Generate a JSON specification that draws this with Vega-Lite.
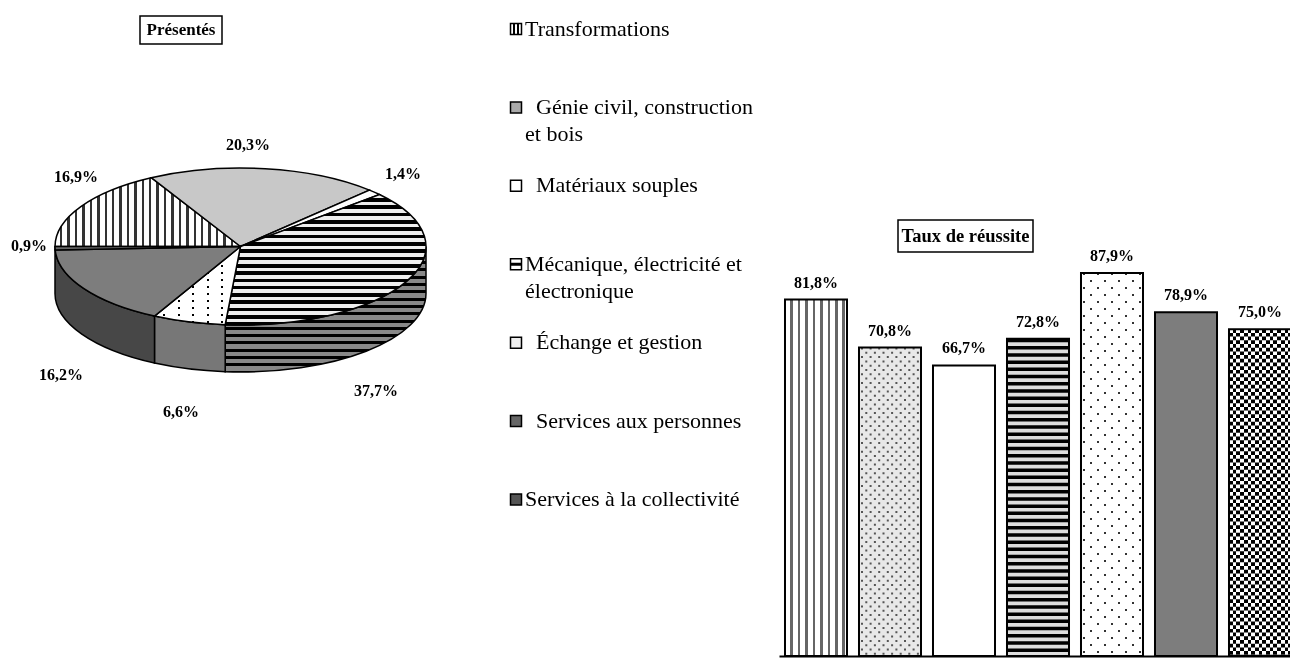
{"$schema":"https://vega.github.io/schema/vega-lite/v6.json","padding":0,"background":"white","bounds":"flush","spacing":0,"config":{"view":{"stroke":null},"locale":{"number":{"decimal":",","thousands":" ","grouping":[3],"currency":["","€"]}},"text":{"font":"Liberation Serif"}},
"data":{"values":[
{"cat":"Transformations","leg":"Transformations","p":0.169,"r":0.818},
{"cat":"Génie civil","leg":"\u200b\u00a0\u00a0Génie civil, construction\net bois","p":0.203,"r":0.708},
{"cat":"Matériaux souples","leg":"\u200b\u00a0\u00a0Matériaux souples","p":0.014,"r":0.667},
{"cat":"Mécanique","leg":"Mécanique, électricité et\nélectronique","p":0.377,"r":0.728},
{"cat":"Échange et gestion","leg":"\u200b\u00a0\u00a0Échange et gestion","p":0.066,"r":0.879},
{"cat":"Services aux personnes","leg":"\u200b\u00a0\u00a0Services aux personnes","p":0.162,"r":0.789},
{"cat":"Services à la collectivité","leg":"Services à la collectivité","p":0.009,"r":0.75}
]},
"hconcat":[
{"width":481,"height":493,"layer":[
{"transform":[{"filter":{"field":"cat","equal":"Mécanique"}}],"mark":{"type":"point","filled":true,"opacity":1,"size":4,"stroke":"#000","strokeWidth":1.5,"shape":"M185.5,0A185.5,78.5,0,0,1,-15.3,78.2L-15.3,125.2A185.5,78.5,0,0,0,185.5,47Z","fill":{"gradient":"linear","x1":0,"y1":0,"x2":0,"y2":1,"stops":[
{"offset":0,"color":"#000"},{"offset":0.024,"color":"#000"},{"offset":0.024,"color":"#888"},{"offset":0.0582,"color":"#888"},
{"offset":0.0582,"color":"#000"},{"offset":0.0822,"color":"#000"},{"offset":0.0822,"color":"#888"},{"offset":0.1164,"color":"#888"},
{"offset":0.1164,"color":"#000"},{"offset":0.1404,"color":"#000"},{"offset":0.1404,"color":"#888"},{"offset":0.1746,"color":"#888"},
{"offset":0.1746,"color":"#000"},{"offset":0.1986,"color":"#000"},{"offset":0.1986,"color":"#888"},{"offset":0.2328,"color":"#888"},
{"offset":0.2328,"color":"#000"},{"offset":0.2568,"color":"#000"},{"offset":0.2568,"color":"#888"},{"offset":0.291,"color":"#888"},
{"offset":0.291,"color":"#000"},{"offset":0.315,"color":"#000"},{"offset":0.315,"color":"#888"},{"offset":0.3492,"color":"#888"},
{"offset":0.3492,"color":"#000"},{"offset":0.3732,"color":"#000"},{"offset":0.3732,"color":"#888"},{"offset":0.4074,"color":"#888"},
{"offset":0.4074,"color":"#000"},{"offset":0.4314,"color":"#000"},{"offset":0.4314,"color":"#888"},{"offset":0.4656,"color":"#888"},
{"offset":0.4656,"color":"#000"},{"offset":0.4896,"color":"#000"},{"offset":0.4896,"color":"#888"},{"offset":0.5238,"color":"#888"},
{"offset":0.5238,"color":"#000"},{"offset":0.5478,"color":"#000"},{"offset":0.5478,"color":"#888"},{"offset":0.582,"color":"#888"},
{"offset":0.582,"color":"#000"},{"offset":0.606,"color":"#000"},{"offset":0.606,"color":"#888"},{"offset":0.6402,"color":"#888"},
{"offset":0.6402,"color":"#000"},{"offset":0.6642,"color":"#000"},{"offset":0.6642,"color":"#888"},{"offset":0.6984,"color":"#888"},
{"offset":0.6984,"color":"#000"},{"offset":0.7224,"color":"#000"},{"offset":0.7224,"color":"#888"},{"offset":0.7566,"color":"#888"},
{"offset":0.7566,"color":"#000"},{"offset":0.7806,"color":"#000"},{"offset":0.7806,"color":"#888"},{"offset":0.8148,"color":"#888"},
{"offset":0.8148,"color":"#000"},{"offset":0.8388,"color":"#000"},{"offset":0.8388,"color":"#888"},{"offset":0.873,"color":"#888"},
{"offset":0.873,"color":"#000"},{"offset":0.897,"color":"#000"},{"offset":0.897,"color":"#888"},{"offset":0.9312,"color":"#888"},
{"offset":0.9312,"color":"#000"},{"offset":0.9552,"color":"#000"},{"offset":0.9552,"color":"#888"},{"offset":0.9894,"color":"#888"},
{"offset":0.9894,"color":"#000"},{"offset":1,"color":"#000"}]}},"encoding":{}},
{"transform":[{"filter":{"field":"cat","equal":"Échange et gestion"}}],"mark":{"type":"point","filled":true,"opacity":1,"size":4,"stroke":"#000","strokeWidth":1.5,"fill":"#777","shape":"M-15.3,78.2A185.5,78.5,0,0,1,-86,69.6L-86,116.6A185.5,78.5,0,0,0,-15.3,125.2Z"},"encoding":{}},
{"transform":[{"filter":{"field":"cat","equal":"Services aux personnes"}}],"mark":{"type":"point","filled":true,"opacity":1,"size":4,"stroke":"#000","strokeWidth":1.5,"fill":"#474747","shape":"M-86,69.6A185.5,78.5,0,0,1,-185.5,0L-185.5,47A185.5,78.5,0,0,0,-86,116.6Z"},"encoding":{}},
{"transform":[{"filter":{"field":"cat","equal":"Transformations"}}],"mark":{"type":"point","filled":true,"opacity":1,"size":4,"stroke":"#000","strokeWidth":1.5,"shape":"M0,0L-185.5,0A185.5,78.5,0,0,1,-89.3,-68.8Z","fill":{"gradient":"linear","x1":0,"y1":0,"x2":1,"y2":0,"stops":[
{"offset":0,"color":"#fff"},{"offset":0.027,"color":"#fff"},{"offset":0.027,"color":"#333"},{"offset":0.04,"color":"#333"},
{"offset":0.04,"color":"#fff"},{"offset":0.067,"color":"#fff"},{"offset":0.067,"color":"#333"},{"offset":0.08,"color":"#333"},
{"offset":0.08,"color":"#fff"},{"offset":0.107,"color":"#fff"},{"offset":0.107,"color":"#333"},{"offset":0.12,"color":"#333"},
{"offset":0.12,"color":"#fff"},{"offset":0.147,"color":"#fff"},{"offset":0.147,"color":"#333"},{"offset":0.16,"color":"#333"},
{"offset":0.16,"color":"#fff"},{"offset":0.187,"color":"#fff"},{"offset":0.187,"color":"#333"},{"offset":0.2,"color":"#333"},
{"offset":0.2,"color":"#fff"},{"offset":0.227,"color":"#fff"},{"offset":0.227,"color":"#333"},{"offset":0.24,"color":"#333"},
{"offset":0.24,"color":"#fff"},{"offset":0.267,"color":"#fff"},{"offset":0.267,"color":"#333"},{"offset":0.28,"color":"#333"},
{"offset":0.28,"color":"#fff"},{"offset":0.307,"color":"#fff"},{"offset":0.307,"color":"#333"},{"offset":0.32,"color":"#333"},
{"offset":0.32,"color":"#fff"},{"offset":0.347,"color":"#fff"},{"offset":0.347,"color":"#333"},{"offset":0.36,"color":"#333"},
{"offset":0.36,"color":"#fff"},{"offset":0.387,"color":"#fff"},{"offset":0.387,"color":"#333"},{"offset":0.4,"color":"#333"},
{"offset":0.4,"color":"#fff"},{"offset":0.427,"color":"#fff"},{"offset":0.427,"color":"#333"},{"offset":0.44,"color":"#333"},
{"offset":0.44,"color":"#fff"},{"offset":0.467,"color":"#fff"},{"offset":0.467,"color":"#333"},{"offset":0.48,"color":"#333"},
{"offset":0.48,"color":"#fff"},{"offset":0.507,"color":"#fff"},{"offset":0.507,"color":"#333"},{"offset":0.52,"color":"#333"},
{"offset":0.52,"color":"#fff"},{"offset":0.547,"color":"#fff"},{"offset":0.547,"color":"#333"},{"offset":0.56,"color":"#333"},
{"offset":0.56,"color":"#fff"},{"offset":0.587,"color":"#fff"},{"offset":0.587,"color":"#333"},{"offset":0.6,"color":"#333"},
{"offset":0.6,"color":"#fff"},{"offset":0.627,"color":"#fff"},{"offset":0.627,"color":"#333"},{"offset":0.64,"color":"#333"},
{"offset":0.64,"color":"#fff"},{"offset":0.667,"color":"#fff"},{"offset":0.667,"color":"#333"},{"offset":0.68,"color":"#333"},
{"offset":0.68,"color":"#fff"},{"offset":0.707,"color":"#fff"},{"offset":0.707,"color":"#333"},{"offset":0.72,"color":"#333"},
{"offset":0.72,"color":"#fff"},{"offset":0.747,"color":"#fff"},{"offset":0.747,"color":"#333"},{"offset":0.76,"color":"#333"},
{"offset":0.76,"color":"#fff"},{"offset":0.787,"color":"#fff"},{"offset":0.787,"color":"#333"},{"offset":0.8,"color":"#333"},
{"offset":0.8,"color":"#fff"},{"offset":0.827,"color":"#fff"},{"offset":0.827,"color":"#333"},{"offset":0.84,"color":"#333"},
{"offset":0.84,"color":"#fff"},{"offset":0.867,"color":"#fff"},{"offset":0.867,"color":"#333"},{"offset":0.88,"color":"#333"},
{"offset":0.88,"color":"#fff"},{"offset":0.907,"color":"#fff"},{"offset":0.907,"color":"#333"},{"offset":0.92,"color":"#333"},
{"offset":0.92,"color":"#fff"},{"offset":0.947,"color":"#fff"},{"offset":0.947,"color":"#333"},{"offset":0.96,"color":"#333"},
{"offset":0.96,"color":"#fff"},{"offset":1,"color":"#fff"}]}},"encoding":{}},
{"transform":[{"filter":{"field":"cat","equal":"Génie civil"}}],"mark":{"type":"point","filled":true,"opacity":1,"size":4,"stroke":"#000","strokeWidth":1.5,"fill":"#c8c8c8","shape":"M0,0L-89.3,-68.8A185.5,78.5,0,0,1,129,-56.4Z"},"encoding":{}},
{"transform":[{"filter":{"field":"cat","equal":"Matériaux souples"}}],"mark":{"type":"point","filled":true,"opacity":1,"size":4,"stroke":"#000","strokeWidth":1.5,"fill":"#fff","shape":"M0,0L129,-56.4A185.5,78.5,0,0,1,139,-52Z"},"encoding":{}},
{"transform":[{"filter":{"field":"cat","equal":"Mécanique"}}],"mark":{"type":"point","filled":true,"opacity":1,"size":4,"stroke":"#000","strokeWidth":1.5,"shape":"M0,0L139,-52A185.5,78.5,0,0,1,-15.3,78.2Z","fill":{"gradient":"linear","x1":0,"y1":0,"x2":0,"y2":1,"stops":[
{"offset":0,"color":"#eee"},{"offset":0.028,"color":"#eee"},{"offset":0.028,"color":"#000"},{"offset":0.056,"color":"#000"},
{"offset":0.056,"color":"#eee"},{"offset":0.084,"color":"#eee"},{"offset":0.084,"color":"#000"},{"offset":0.112,"color":"#000"},
{"offset":0.112,"color":"#eee"},{"offset":0.14,"color":"#eee"},{"offset":0.14,"color":"#000"},{"offset":0.168,"color":"#000"},
{"offset":0.168,"color":"#eee"},{"offset":0.196,"color":"#eee"},{"offset":0.196,"color":"#000"},{"offset":0.224,"color":"#000"},
{"offset":0.224,"color":"#eee"},{"offset":0.252,"color":"#eee"},{"offset":0.252,"color":"#000"},{"offset":0.28,"color":"#000"},
{"offset":0.28,"color":"#eee"},{"offset":0.308,"color":"#eee"},{"offset":0.308,"color":"#000"},{"offset":0.336,"color":"#000"},
{"offset":0.336,"color":"#eee"},{"offset":0.364,"color":"#eee"},{"offset":0.364,"color":"#000"},{"offset":0.392,"color":"#000"},
{"offset":0.392,"color":"#eee"},{"offset":0.42,"color":"#eee"},{"offset":0.42,"color":"#000"},{"offset":0.448,"color":"#000"},
{"offset":0.448,"color":"#eee"},{"offset":0.476,"color":"#eee"},{"offset":0.476,"color":"#000"},{"offset":0.504,"color":"#000"},
{"offset":0.504,"color":"#eee"},{"offset":0.532,"color":"#eee"},{"offset":0.532,"color":"#000"},{"offset":0.56,"color":"#000"},
{"offset":0.56,"color":"#eee"},{"offset":0.588,"color":"#eee"},{"offset":0.588,"color":"#000"},{"offset":0.616,"color":"#000"},
{"offset":0.616,"color":"#eee"},{"offset":0.644,"color":"#eee"},{"offset":0.644,"color":"#000"},{"offset":0.672,"color":"#000"},
{"offset":0.672,"color":"#eee"},{"offset":0.7,"color":"#eee"},{"offset":0.7,"color":"#000"},{"offset":0.728,"color":"#000"},
{"offset":0.728,"color":"#eee"},{"offset":0.756,"color":"#eee"},{"offset":0.756,"color":"#000"},{"offset":0.784,"color":"#000"},
{"offset":0.784,"color":"#eee"},{"offset":0.812,"color":"#eee"},{"offset":0.812,"color":"#000"},{"offset":0.84,"color":"#000"},
{"offset":0.84,"color":"#eee"},{"offset":0.868,"color":"#eee"},{"offset":0.868,"color":"#000"},{"offset":0.896,"color":"#000"},
{"offset":0.896,"color":"#eee"},{"offset":0.924,"color":"#eee"},{"offset":0.924,"color":"#000"},{"offset":0.952,"color":"#000"},
{"offset":0.952,"color":"#eee"},{"offset":0.98,"color":"#eee"},{"offset":0.98,"color":"#000"},{"offset":1,"color":"#000"}]}},"encoding":{}},
{"transform":[{"filter":{"field":"cat","equal":"Échange et gestion"}}],"mark":{"type":"point","filled":true,"opacity":1,"size":4,"shape":"M0,0L-15.3,78.2A185.5,78.5,0,0,1,-86,69.6Z","fill":{"gradient":"linear","x1":0,"y1":0,"x2":0,"y2":1,"stops":[
{"offset":0,"color":"#fff"},{"offset":0.06,"color":"#fff"},{"offset":0.06,"color":"#000"},{"offset":0.085,"color":"#000"},
{"offset":0.085,"color":"#fff"},{"offset":0.149,"color":"#fff"},{"offset":0.149,"color":"#000"},{"offset":0.174,"color":"#000"},
{"offset":0.174,"color":"#fff"},{"offset":0.238,"color":"#fff"},{"offset":0.238,"color":"#000"},{"offset":0.263,"color":"#000"},
{"offset":0.263,"color":"#fff"},{"offset":0.327,"color":"#fff"},{"offset":0.327,"color":"#000"},{"offset":0.352,"color":"#000"},
{"offset":0.352,"color":"#fff"},{"offset":0.416,"color":"#fff"},{"offset":0.416,"color":"#000"},{"offset":0.441,"color":"#000"},
{"offset":0.441,"color":"#fff"},{"offset":0.505,"color":"#fff"},{"offset":0.505,"color":"#000"},{"offset":0.53,"color":"#000"},
{"offset":0.53,"color":"#fff"},{"offset":0.594,"color":"#fff"},{"offset":0.594,"color":"#000"},{"offset":0.619,"color":"#000"},
{"offset":0.619,"color":"#fff"},{"offset":0.683,"color":"#fff"},{"offset":0.683,"color":"#000"},{"offset":0.708,"color":"#000"},
{"offset":0.708,"color":"#fff"},{"offset":0.772,"color":"#fff"},{"offset":0.772,"color":"#000"},{"offset":0.797,"color":"#000"},
{"offset":0.797,"color":"#fff"},{"offset":0.861,"color":"#fff"},{"offset":0.861,"color":"#000"},{"offset":0.886,"color":"#000"},
{"offset":0.886,"color":"#fff"},{"offset":0.95,"color":"#fff"},{"offset":0.95,"color":"#000"},{"offset":0.975,"color":"#000"},
{"offset":0.975,"color":"#fff"},{"offset":1,"color":"#fff"}]}},"encoding":{}},
{"transform":[{"filter":{"field":"cat","equal":"Échange et gestion"}}],"mark":{"type":"point","filled":true,"opacity":1,"size":4,"blend":"screen","shape":"M0,0L-15.3,78.2A185.5,78.5,0,0,1,-86,69.6Z","fill":{"gradient":"linear","x1":0,"y1":0,"x2":1,"y2":0,"stops":[
{"offset":0,"color":"#fff"},{"offset":0.1,"color":"#fff"},{"offset":0.1,"color":"#000"},{"offset":0.123,"color":"#000"},
{"offset":0.123,"color":"#fff"},{"offset":0.269,"color":"#fff"},{"offset":0.269,"color":"#000"},{"offset":0.292,"color":"#000"},
{"offset":0.292,"color":"#fff"},{"offset":0.438,"color":"#fff"},{"offset":0.438,"color":"#000"},{"offset":0.461,"color":"#000"},
{"offset":0.461,"color":"#fff"},{"offset":0.607,"color":"#fff"},{"offset":0.607,"color":"#000"},{"offset":0.63,"color":"#000"},
{"offset":0.63,"color":"#fff"},{"offset":0.776,"color":"#fff"},{"offset":0.776,"color":"#000"},{"offset":0.799,"color":"#000"},
{"offset":0.799,"color":"#fff"},{"offset":1,"color":"#fff"}]}},"encoding":{}},
{"transform":[{"filter":{"field":"cat","equal":"Échange et gestion"}}],"mark":{"type":"point","filled":false,"opacity":1,"size":4,"stroke":"#000","strokeWidth":1.5,"shape":"M0,0L-15.3,78.2A185.5,78.5,0,0,1,-86,69.6Z"},"encoding":{}},
{"transform":[{"filter":{"field":"cat","equal":"Services aux personnes"}}],"mark":{"type":"point","filled":true,"opacity":1,"size":4,"stroke":"#000","strokeWidth":1.5,"fill":"#7d7d7d","shape":"M0,0L-86,69.6A185.5,78.5,0,0,1,-185.3,3.5Z"},"encoding":{}},
{"transform":[{"filter":{"field":"cat","equal":"Services à la collectivité"}}],"mark":{"type":"point","filled":true,"opacity":1,"size":4,"stroke":"#000","strokeWidth":1.5,"fill":"#666","shape":"M0,0L-185.3,3.5A185.5,78.5,0,0,1,-185.5,0Z"},"encoding":{}},
{"transform":[{"filter":{"field":"cat","equal":"Génie civil"}}],"mark":{"type":"text","font":"Liberation Serif","fontWeight":"bold","fontSize":16,"dx":7.5,"dy":-101.5,"baseline":"middle"},"encoding":{"text":{"field":"p","type":"quantitative","format":".1%"}}},
{"transform":[{"filter":{"field":"cat","equal":"Matériaux souples"}}],"mark":{"type":"text","font":"Liberation Serif","fontWeight":"bold","fontSize":16,"dx":162.5,"dy":-72.5,"baseline":"middle"},"encoding":{"text":{"field":"p","type":"quantitative","format":".1%"}}},
{"transform":[{"filter":{"field":"cat","equal":"Mécanique"}}],"mark":{"type":"text","font":"Liberation Serif","fontWeight":"bold","fontSize":16,"dx":135.5,"dy":144.5,"baseline":"middle"},"encoding":{"text":{"field":"p","type":"quantitative","format":".1%"}}},
{"transform":[{"filter":{"field":"cat","equal":"Échange et gestion"}}],"mark":{"type":"text","font":"Liberation Serif","fontWeight":"bold","fontSize":16,"dx":-59.5,"dy":165.5,"baseline":"middle"},"encoding":{"text":{"field":"p","type":"quantitative","format":".1%"}}},
{"transform":[{"filter":{"field":"cat","equal":"Services aux personnes"}}],"mark":{"type":"text","font":"Liberation Serif","fontWeight":"bold","fontSize":16,"dx":-179.5,"dy":128.5,"baseline":"middle"},"encoding":{"text":{"field":"p","type":"quantitative","format":".1%"}}},
{"transform":[{"filter":{"field":"cat","equal":"Services à la collectivité"}}],"mark":{"type":"text","font":"Liberation Serif","fontWeight":"bold","fontSize":16,"dx":-211.5,"dy":-0.5,"baseline":"middle"},"encoding":{"text":{"field":"p","type":"quantitative","format":".1%"}}},
{"transform":[{"filter":{"field":"cat","equal":"Transformations"}}],"mark":{"type":"text","font":"Liberation Serif","fontWeight":"bold","fontSize":16,"dx":-164.5,"dy":-69.5,"baseline":"middle"},"encoding":{"text":{"field":"p","type":"quantitative","format":".1%"}}},
{"data":{"values":[{"titre":"Présentés"}]},"mark":{"type":"point","filled":true,"opacity":1,"size":4,"fill":"#fff","stroke":"#000","strokeWidth":1.5,"shape":"M-100.5,-230.5H-18.5V-202.5H-100.5Z"},"encoding":{}},
{"data":{"values":[{"titre":"Présentés"}]},"mark":{"type":"text","font":"Liberation Serif","fontWeight":"bold","fontSize":17,"dx":-59.5,"dy":-216.5,"baseline":"middle"},"encoding":{"text":{"field":"titre"}}}
]},
{"width":70,"height":656,"encoding":{"y":{"field":"cat","type":"nominal","sort":null,"axis":null,"scale":{"type":"point","padding":0,"range":[29,499.5]}}},"layer":[
{"mark":{"type":"point","filled":true,"opacity":1,"size":4,"stroke":"#000","strokeWidth":1.5,"shape":"M-5.5,-5.5H5.5V5.5H-5.5Z"},"encoding":{"fill":{"condition":[{"test":"datum.cat==='Génie civil'","value":"#aaa"},{"test":"datum.cat==='Services aux personnes'","value":"#666"},{"test":"datum.cat==='Services à la collectivité'","value":"#555"},{"test":"datum.cat==='Échange et gestion'","value":"#eee"}],"value":"#fff"}}},
{"transform":[{"filter":{"field":"cat","equal":"Transformations"}}],"mark":{"type":"point","filled":false,"opacity":1,"size":4,"stroke":"#000","strokeWidth":2,"shape":"M-2,-5V5M2,-5V5"}},
{"transform":[{"filter":{"field":"cat","equal":"Mécanique"}}],"mark":{"type":"point","filled":false,"opacity":1,"size":4,"stroke":"#000","strokeWidth":3,"shape":"M-5,0H5"}},
{"mark":{"type":"text","font":"Liberation Serif","fontSize":22,"align":"left","dx":9,"dy":6.5,"lineBreak":"\n","lineHeight":27,"baseline":"alphabetic"},"encoding":{"text":{"field":"leg"}}}
]},
{"width":739,"height":656,"encoding":{"x":{"field":"cat","type":"nominal","sort":null,"title":null,"scale":{"type":"band","range":[228,746],"paddingInner":0.162,"paddingOuter":0.081},"axis":{"domain":true,"domainWidth":2,"domainColor":"#000","ticks":false,"labels":false,"grid":false,"title":null}},"y":{"field":"r","type":"quantitative","title":null,"axis":null,"scale":{"domain":[0,1.5056],"nice":false}}},"layer":[
{"mark":{"type":"bar","fill":"#fff"}},
{"transform":[{"filter":{"field":"cat","equal":"Transformations"}}],"mark":{"type":"bar","fill":{"gradient":"linear","x1":0,"y1":0,"x2":1,"y2":0,"stops":[
{"offset":0,"color":"#fff"},{"offset":0.087,"color":"#fff"},{"offset":0.087,"color":"#666"},{"offset":0.127,"color":"#666"},
{"offset":0.127,"color":"#fff"},{"offset":0.205,"color":"#fff"},{"offset":0.205,"color":"#666"},{"offset":0.245,"color":"#666"},
{"offset":0.245,"color":"#fff"},{"offset":0.328,"color":"#fff"},{"offset":0.328,"color":"#666"},{"offset":0.368,"color":"#666"},
{"offset":0.368,"color":"#fff"},{"offset":0.445,"color":"#fff"},{"offset":0.445,"color":"#666"},{"offset":0.485,"color":"#666"},
{"offset":0.485,"color":"#fff"},{"offset":0.568,"color":"#fff"},{"offset":0.568,"color":"#666"},{"offset":0.608,"color":"#666"},
{"offset":0.608,"color":"#fff"},{"offset":0.686,"color":"#fff"},{"offset":0.686,"color":"#666"},{"offset":0.726,"color":"#666"},
{"offset":0.726,"color":"#fff"},{"offset":0.809,"color":"#fff"},{"offset":0.809,"color":"#666"},{"offset":0.849,"color":"#666"},
{"offset":0.849,"color":"#fff"},{"offset":0.927,"color":"#fff"},{"offset":0.927,"color":"#666"},{"offset":0.967,"color":"#666"},
{"offset":0.967,"color":"#fff"},{"offset":1,"color":"#fff"}]}}},
{"transform":[{"filter":{"field":"cat","equal":"Génie civil"}}],"mark":{"type":"bar","fill":"#e8e8e8"}},
{"transform":[{"filter":{"field":"cat","equal":"Génie civil"}}],"mark":{"type":"rule","size":2,"stroke":"#555","strokeDash":[2,6.6],"xOffset":-28},"encoding":{"y2":{"datum":0}}},
{"transform":[{"filter":{"field":"cat","equal":"Génie civil"}}],"mark":{"type":"rule","size":2,"stroke":"#555","strokeDash":[2,6.6],"strokeDashOffset":4.3,"xOffset":-23.7},"encoding":{"y2":{"datum":0}}},
{"transform":[{"filter":{"field":"cat","equal":"Génie civil"}}],"mark":{"type":"rule","size":2,"stroke":"#555","strokeDash":[2,6.6],"xOffset":-19.4},"encoding":{"y2":{"datum":0}}},
{"transform":[{"filter":{"field":"cat","equal":"Génie civil"}}],"mark":{"type":"rule","size":2,"stroke":"#555","strokeDash":[2,6.6],"strokeDashOffset":4.3,"xOffset":-15.1},"encoding":{"y2":{"datum":0}}},
{"transform":[{"filter":{"field":"cat","equal":"Génie civil"}}],"mark":{"type":"rule","size":2,"stroke":"#555","strokeDash":[2,6.6],"xOffset":-10.8},"encoding":{"y2":{"datum":0}}},
{"transform":[{"filter":{"field":"cat","equal":"Génie civil"}}],"mark":{"type":"rule","size":2,"stroke":"#555","strokeDash":[2,6.6],"strokeDashOffset":4.3,"xOffset":-6.5},"encoding":{"y2":{"datum":0}}},
{"transform":[{"filter":{"field":"cat","equal":"Génie civil"}}],"mark":{"type":"rule","size":2,"stroke":"#555","strokeDash":[2,6.6],"xOffset":-2.2},"encoding":{"y2":{"datum":0}}},
{"transform":[{"filter":{"field":"cat","equal":"Génie civil"}}],"mark":{"type":"rule","size":2,"stroke":"#555","strokeDash":[2,6.6],"strokeDashOffset":4.3,"xOffset":2.1},"encoding":{"y2":{"datum":0}}},
{"transform":[{"filter":{"field":"cat","equal":"Génie civil"}}],"mark":{"type":"rule","size":2,"stroke":"#555","strokeDash":[2,6.6],"xOffset":6.4},"encoding":{"y2":{"datum":0}}},
{"transform":[{"filter":{"field":"cat","equal":"Génie civil"}}],"mark":{"type":"rule","size":2,"stroke":"#555","strokeDash":[2,6.6],"strokeDashOffset":4.3,"xOffset":10.7},"encoding":{"y2":{"datum":0}}},
{"transform":[{"filter":{"field":"cat","equal":"Génie civil"}}],"mark":{"type":"rule","size":2,"stroke":"#555","strokeDash":[2,6.6],"xOffset":15},"encoding":{"y2":{"datum":0}}},
{"transform":[{"filter":{"field":"cat","equal":"Génie civil"}}],"mark":{"type":"rule","size":2,"stroke":"#555","strokeDash":[2,6.6],"strokeDashOffset":4.3,"xOffset":19.3},"encoding":{"y2":{"datum":0}}},
{"transform":[{"filter":{"field":"cat","equal":"Génie civil"}}],"mark":{"type":"rule","size":2,"stroke":"#555","strokeDash":[2,6.6],"xOffset":23.6},"encoding":{"y2":{"datum":0}}},
{"transform":[{"filter":{"field":"cat","equal":"Génie civil"}}],"mark":{"type":"rule","size":2,"stroke":"#555","strokeDash":[2,6.6],"strokeDashOffset":4.3,"xOffset":27.9},"encoding":{"y2":{"datum":0}}},
{"transform":[{"filter":{"field":"cat","equal":"Mécanique"}}],"mark":{"type":"bar","fill":"#ddd"}},
{"transform":[{"filter":{"field":"cat","equal":"Mécanique"}}],"mark":{"type":"rule","size":61,"stroke":"#000","strokeDash":[3.5,3.7]},"encoding":{"y2":{"datum":0}}},
{"transform":[{"filter":{"field":"cat","equal":"Échange et gestion"}}],"mark":{"type":"rule","size":2,"stroke":"#333","strokeDash":[2,12],"xOffset":-28},"encoding":{"y2":{"datum":0}}},
{"transform":[{"filter":{"field":"cat","equal":"Échange et gestion"}}],"mark":{"type":"rule","size":2,"stroke":"#333","strokeDash":[2,12],"strokeDashOffset":7,"xOffset":-21},"encoding":{"y2":{"datum":0}}},
{"transform":[{"filter":{"field":"cat","equal":"Échange et gestion"}}],"mark":{"type":"rule","size":2,"stroke":"#333","strokeDash":[2,12],"xOffset":-14},"encoding":{"y2":{"datum":0}}},
{"transform":[{"filter":{"field":"cat","equal":"Échange et gestion"}}],"mark":{"type":"rule","size":2,"stroke":"#333","strokeDash":[2,12],"strokeDashOffset":7,"xOffset":-7},"encoding":{"y2":{"datum":0}}},
{"transform":[{"filter":{"field":"cat","equal":"Échange et gestion"}}],"mark":{"type":"rule","size":2,"stroke":"#333","strokeDash":[2,12]},"encoding":{"y2":{"datum":0}}},
{"transform":[{"filter":{"field":"cat","equal":"Échange et gestion"}}],"mark":{"type":"rule","size":2,"stroke":"#333","strokeDash":[2,12],"strokeDashOffset":7,"xOffset":7},"encoding":{"y2":{"datum":0}}},
{"transform":[{"filter":{"field":"cat","equal":"Échange et gestion"}}],"mark":{"type":"rule","size":2,"stroke":"#333","strokeDash":[2,12],"xOffset":14},"encoding":{"y2":{"datum":0}}},
{"transform":[{"filter":{"field":"cat","equal":"Échange et gestion"}}],"mark":{"type":"rule","size":2,"stroke":"#333","strokeDash":[2,12],"strokeDashOffset":7,"xOffset":21},"encoding":{"y2":{"datum":0}}},
{"transform":[{"filter":{"field":"cat","equal":"Échange et gestion"}}],"mark":{"type":"rule","size":2,"stroke":"#333","strokeDash":[2,12],"xOffset":28},"encoding":{"y2":{"datum":0}}},
{"transform":[{"filter":{"field":"cat","equal":"Services aux personnes"}}],"mark":{"type":"bar","fill":"#7d7d7d"}},
{"transform":[{"filter":{"field":"cat","equal":"Services à la collectivité"}}],"mark":{"type":"rule","size":61,"stroke":"#000","strokeDash":[3.7,3.7]},"encoding":{"y2":{"datum":0}}},
{"transform":[{"filter":{"field":"cat","equal":"Services à la collectivité"}}],"mark":{"type":"bar","blend":"difference","fill":{"gradient":"linear","x1":0,"y1":0,"x2":1,"y2":0,"stops":[
{"offset":0,"color":"#fff"},{"offset":0.0597,"color":"#fff"},{"offset":0.0597,"color":"#000"},{"offset":0.1194,"color":"#000"},
{"offset":0.1194,"color":"#fff"},{"offset":0.1791,"color":"#fff"},{"offset":0.1791,"color":"#000"},{"offset":0.2388,"color":"#000"},
{"offset":0.2388,"color":"#fff"},{"offset":0.2985,"color":"#fff"},{"offset":0.2985,"color":"#000"},{"offset":0.3582,"color":"#000"},
{"offset":0.3582,"color":"#fff"},{"offset":0.4179,"color":"#fff"},{"offset":0.4179,"color":"#000"},{"offset":0.4776,"color":"#000"},
{"offset":0.4776,"color":"#fff"},{"offset":0.5373,"color":"#fff"},{"offset":0.5373,"color":"#000"},{"offset":0.597,"color":"#000"},
{"offset":0.597,"color":"#fff"},{"offset":0.6567,"color":"#fff"},{"offset":0.6567,"color":"#000"},{"offset":0.7164,"color":"#000"},
{"offset":0.7164,"color":"#fff"},{"offset":0.7761,"color":"#fff"},{"offset":0.7761,"color":"#000"},{"offset":0.8358,"color":"#000"},
{"offset":0.8358,"color":"#fff"},{"offset":0.8955,"color":"#fff"},{"offset":0.8955,"color":"#000"},{"offset":0.9552,"color":"#000"},
{"offset":0.9552,"color":"#fff"},{"offset":1,"color":"#fff"}]}}},
{"mark":{"type":"bar","filled":false,"stroke":"#000","strokeWidth":2}},
{"mark":{"type":"text","font":"Liberation Serif","fontWeight":"bold","fontSize":16,"dy":-17},"encoding":{"text":{"field":"r","type":"quantitative","format":".1%"}}},
{"data":{"values":[{"titre":"Taux de réussite"}]},"mark":{"type":"point","filled":true,"opacity":1,"size":4,"fill":"#fff","stroke":"#000","strokeWidth":1.5,"shape":"M-22.5,-108H112.5V-76H-22.5Z"},"encoding":{"x":null,"y":null}},
{"data":{"values":[{"titre":"Taux de réussite"}]},"mark":{"type":"text","font":"Liberation Serif","fontWeight":"bold","fontSize":18.5,"dx":45,"dy":-92,"baseline":"middle"},"encoding":{"x":null,"y":null,"text":{"field":"titre"}}}
]}
]}
